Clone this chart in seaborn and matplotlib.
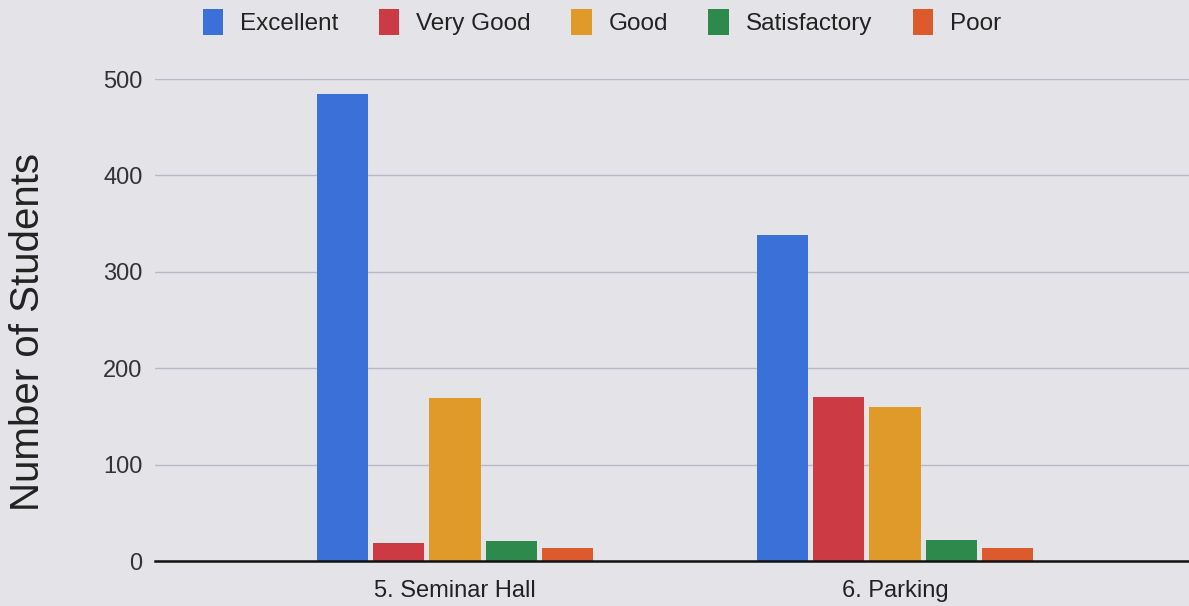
import matplotlib
matplotlib.use("Agg")
import matplotlib.pyplot as plt
import seaborn as sns
import pandas as pd
from matplotlib.patches import Patch

categories = ["5. Seminar Hall", "6. Parking"]
ratings = ["Excellent", "Very Good", "Good", "Satisfactory", "Poor"]
excellent = [484, 338]
very_good = [19, 170]
good = [169, 160]
satisfactory = [21, 22]
poor = [13, 13]
y_ticks = [0, 100, 200, 300, 400, 500]

colors = ["#3a70d8", "#cc3a44", "#e09a2a", "#2e8a4c", "#dc5a2c"]
bg = "#e4e4e8"

rows = []
for r, vals in zip(ratings, [excellent, very_good, good, satisfactory, poor]):
    for c, v in zip(categories, vals):
        rows.append({"Category": c, "Rating": r, "Students": v})
df = pd.DataFrame(rows)

sns.set_theme(style="white")
plt.rcParams["font.family"] = ["Liberation Sans", "DejaVu Sans"]

fig = plt.figure(figsize=(11.89, 6.06), dpi=100, facecolor=bg)
ax = fig.add_axes([155/1189, 1 - 561/606, 1 - 155/1189, (561 - 79)/606])
ax.set_facecolor(bg)

sns.barplot(data=df, x="Category", y="Students", hue="Rating",
            hue_order=ratings, order=categories, palette=colors,
            width=0.64, gap=0.09, saturation=1, legend=False,
            linewidth=0, edgecolor="none", ax=ax)

ax.set_xlim(-300/440, 1 + 294/440)
ax.set_ylim(0, 500)
ax.set_yticks(y_ticks)
ax.yaxis.grid(True, color="#b8b8c8", linewidth=1)
ax.set_axisbelow(True)
for s in ["top", "right", "left"]:
    ax.spines[s].set_visible(False)
ax.spines["bottom"].set_color("#111111")
ax.spines["bottom"].set_linewidth(1.8)
ax.tick_params(axis="y", length=0, pad=9, labelsize=17, labelcolor="#333333")
ax.tick_params(axis="x", length=0, pad=14, labelsize=17, labelcolor="#222222")
ax.set_xlabel("")
ax.set_ylabel("Number of Students", fontsize=29, color="#222222", va="center")
ax.yaxis.set_label_coords((28 - 155)/1034, (561 - 332)/482)

handles = [Patch(facecolor=c, edgecolor="none") for c in colors]
fig.legend(handles, ratings, loc="center", bbox_to_anchor=(602/1189, 1 - 22/606),
           ncol=5, frameon=False, fontsize=17.5, handlelength=0.85, handleheight=1.25,
           handletextpad=0.7, columnspacing=1.65, labelcolor="#222222")

fig.savefig("out.png", dpi=100, facecolor=bg)
